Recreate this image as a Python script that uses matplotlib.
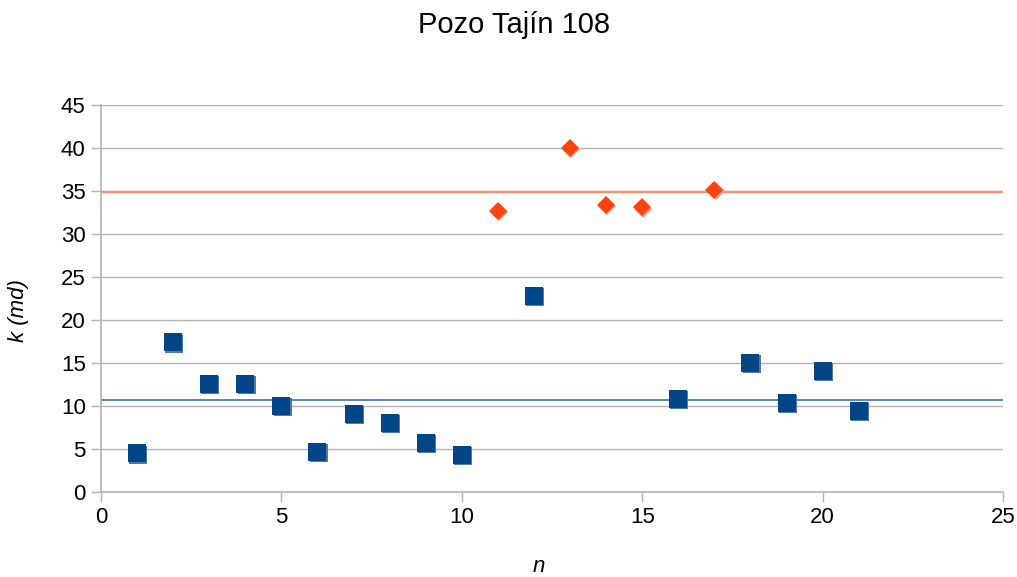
import matplotlib.pyplot as plt
import matplotlib.transforms as mtransforms

plt.rcParams['font.family'] = ['Liberation Sans', 'DejaVu Sans']

# Datos
n_bajo = [1, 2, 3, 4, 5, 6, 7, 8, 9, 10, 12, 16, 18, 19, 20, 21]
k_bajo = [4.5, 17.4, 12.6, 12.6, 10.0, 4.65, 9.1, 8.0, 5.7, 4.3, 22.8, 10.8, 15.0, 10.35, 14.1, 9.4]
n_alto = [11, 13, 14, 15, 17]
k_alto = [32.7, 40.0, 33.4, 33.1, 35.1]
media_bajo = 10.7
media_alto = 34.9

fig = plt.figure(figsize=(10.17, 5.77), dpi=100)
ax = fig.add_axes([101/1017, 1 - 492/577, 902/1017, 387/577])

gris = '#b3b3b3'
ax.axhline(media_alto, color='#ff8a70', lw=1.6, zorder=2)
ax.axhline(media_bajo, color='#3f6fa8', lw=1.2, zorder=2)

# sombra de los marcadores
sombra = mtransforms.offset_copy(ax.transData, fig=fig, x=1.2, y=-1.2, units='dots')
ax.plot(n_bajo, k_bajo, 's', ms=13.5, color='#4f79a8', mew=0, transform=sombra, zorder=3)
ax.plot(n_alto, k_alto, 'D', ms=9.5, color='#ff9a80', mew=0, transform=sombra, zorder=3)
ax.plot(n_bajo, k_bajo, 's', ms=13.5, color='#004586', mew=0, zorder=4)
ax.plot(n_alto, k_alto, 'D', ms=9.5, color='#ff420e', mew=0, zorder=4)

ax.set_xlim(0, 25)
ax.set_ylim(0, 45)
ax.set_xticks(range(0, 26, 5))
ax.set_yticks(range(0, 46, 5))
ax.grid(axis='y', color=gris, lw=1)
ax.set_axisbelow(True)
for s in ['top', 'right']:
    ax.spines[s].set_visible(False)
for s in ['left', 'bottom']:
    ax.spines[s].set_color(gris)
    ax.spines[s].set_linewidth(1.2)
ax.tick_params(colors=gris, labelcolor='black', labelsize=16, length=7, width=1, pad=4)

ax.set_xlabel('n', fontsize=16, style='italic')
ax.xaxis.label.set_va('baseline')
ax.xaxis.set_label_coords(0.485, -0.208)
ax.set_ylabel('k (md)', fontsize=16, style='italic')
ax.yaxis.label.set_va('center')
ax.yaxis.set_label_coords(-0.092, 0.47)
fig.text(0.505, 1 - 25/577, 'Pozo Tajín 108', fontsize=21, ha='center', va='center')

plt.savefig('out.png')
